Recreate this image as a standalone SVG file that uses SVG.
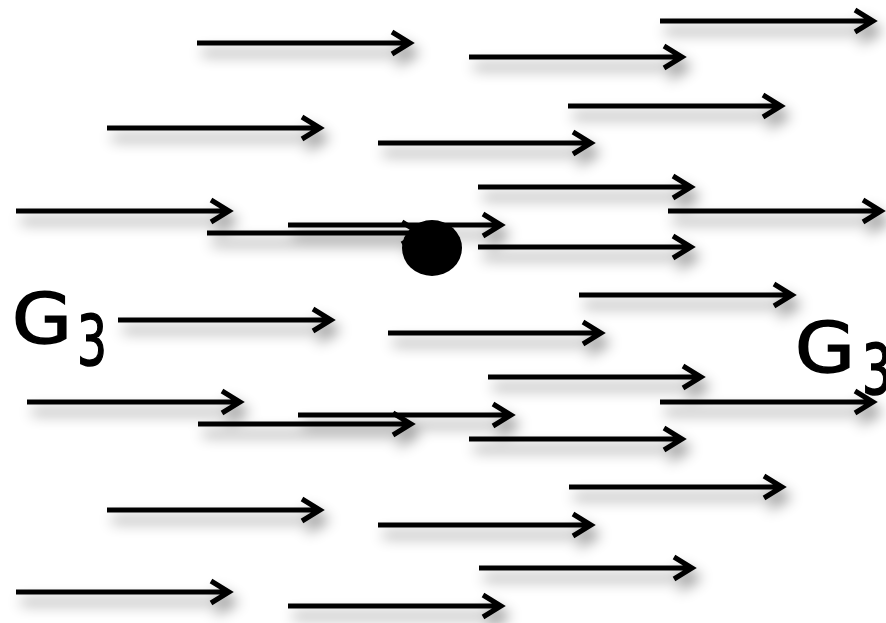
<svg xmlns="http://www.w3.org/2000/svg" width="886" height="623" viewBox="0 0 886 623">
<style>
.arr{fill:none;stroke:#000;stroke-width:5;stroke-linejoin:miter}
.lbl{font-family:"DejaVu Sans","Liberation Sans",sans-serif;fill:#000;stroke:#000;stroke-width:1.6;font-size:70px}
</style>
<defs>
<filter id="sh" x="-10%" y="-150%" width="130%" height="500%">
<feDropShadow dx="5" dy="10" stdDeviation="7" flood-color="#000" flood-opacity="0.45"/>
</filter>
<path id="a" class="arr" d="M0 0H211M195 -11L213 0L195 11"/>
</defs>
<rect width="886" height="623" fill="#fff"/>
<g id="connectors" filter="url(#sh)">
<use href="#a" x="197" y="43"/>
<use href="#a" x="469" y="57"/>
<use href="#a" x="660" y="21"/>
<use href="#a" x="107" y="128"/>
<use href="#a" x="568" y="106"/>
<use href="#a" x="378" y="143"/>
<use href="#a" x="478" y="187"/>
<use href="#a" x="16" y="211"/>
<use href="#a" x="668" y="211"/>
<use href="#a" x="288" y="225"/>
<use href="#a" x="207" y="233"/>
<use href="#a" x="478" y="247"/>
<use href="#a" x="579" y="295"/>
<use href="#a" x="118" y="320"/>
<use href="#a" x="388" y="333"/>
<use href="#a" x="488" y="377"/>
<use href="#a" x="27" y="402"/>
<use href="#a" x="660" y="402"/>
<use href="#a" x="298" y="415"/>
<use href="#a" x="198" y="424"/>
<use href="#a" x="469" y="439"/>
<use href="#a" x="569" y="487"/>
<use href="#a" x="107" y="510"/>
<use href="#a" x="378" y="525"/>
<use href="#a" x="479" y="568"/>
<use href="#a" x="16" y="592"/>
<use href="#a" x="288" y="606"/>
</g>
<g id="dot"><ellipse cx="432" cy="248" rx="30" ry="28" fill="#000"/></g>
<g id="label-left">
<text class="lbl" x="12" y="343" textLength="60" lengthAdjust="spacingAndGlyphs">G</text>
<text class="lbl" x="77" y="365" textLength="30" lengthAdjust="spacingAndGlyphs">3</text>
</g>
<g id="label-right">
<text class="lbl" x="795" y="372" textLength="60" lengthAdjust="spacingAndGlyphs">G</text>
<text class="lbl" x="862" y="394" textLength="30" lengthAdjust="spacingAndGlyphs">3</text>
</g>
</svg>
